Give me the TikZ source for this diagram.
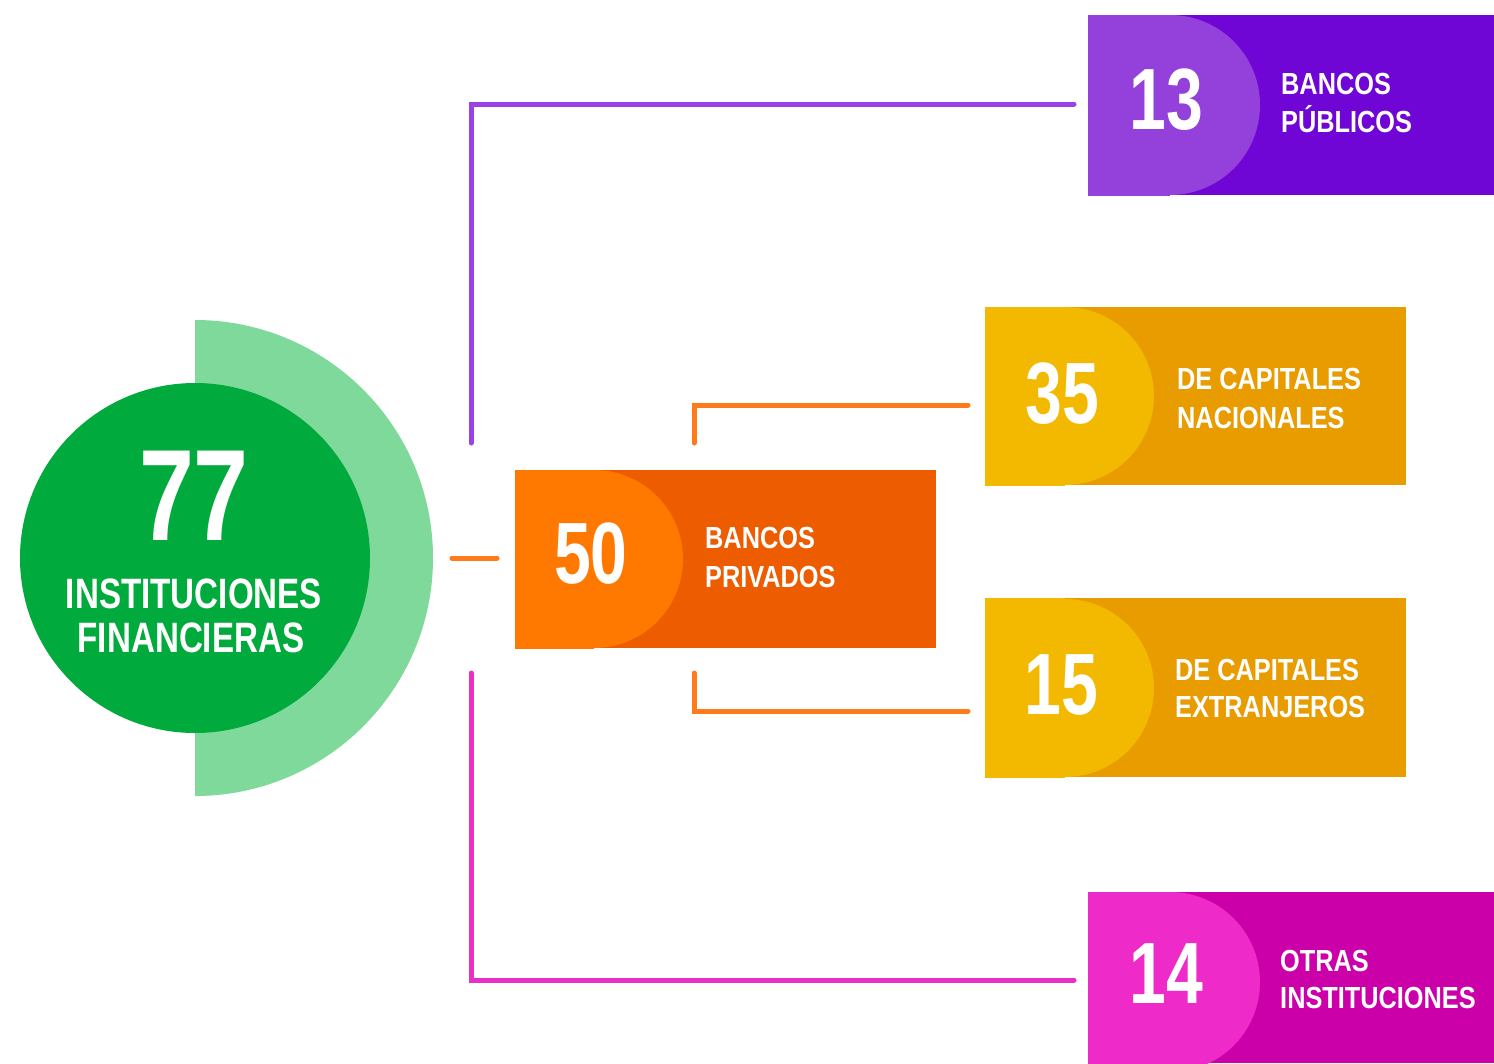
\documentclass[tikz,border=0pt]{standalone}
\usepackage{fontspec}
\setmainfont{Liberation Sans}
\newfontfamily\numfont{Liberation Sans}[FakeStretch=0.76]
\newfontfamily\labfont{Liberation Sans}[FakeStretch=0.83]
\newfontfamily\grnfont{Liberation Sans}[FakeStretch=0.78]
\definecolor{gdark}{HTML}{00AA3C}
\definecolor{glight}{HTML}{7ED99A}
\definecolor{pdark}{HTML}{7006D6}
\definecolor{plight}{HTML}{9440DA}
\definecolor{pline}{HTML}{9A42E6}
\definecolor{odark}{HTML}{EE5C00}
\definecolor{olight}{HTML}{FF7800}
\definecolor{oline}{HTML}{FF7A1A}
\definecolor{ydark}{HTML}{E89C00}
\definecolor{ylight}{HTML}{F2B900}
\definecolor{mdark}{HTML}{CC00A8}
\definecolor{mlight}{HTML}{EE2AC8}
\definecolor{mline}{HTML}{E830C8}
\tikzset{
  conn/.style={line width=5pt, line cap=round, line join=miter},
  num/.style={text=white, font=\numfont\bfseries\fontsize{87}{87}\selectfont, anchor=base, inner sep=0pt},
  lab/.style={text=white, font=\labfont\bfseries\fontsize{30.5}{30.5}\selectfont, anchor=base west, inner sep=0pt},
  grn/.style={text=white, font=\grnfont\bfseries\fontsize{42.5}{42.5}\selectfont, anchor=base, inner sep=0pt},
  card/.style={rectangle, draw=none, inner sep=0pt, anchor=north west},
}
% light "D" shape inside a card: #1 card name, #2 centre x, #3 centre y, #4 radius
\newcommand{\cardlight}[5]{%
  \begin{scope}
    \clip (#1.south west) rectangle (#1.north east);
    \fill[#5] (#2,#3) circle[radius=#4pt];
    \fill[#5] (#1.south west) rectangle (#2,#3-#4-5);
    \fill[#5] (#1.north west) rectangle (#2,#3+#4+5);
  \end{scope}}
\begin{document}
\begin{tikzpicture}[x=1pt,y=-1pt]
\useasboundingbox[fill=white] (0,0) rectangle (1494,1063);

% ---- green circle ----
\coordinate (gc) at (195,558);
\begin{scope}
  \clip (195,300) rectangle (460,820);
  \fill[glight] (gc) circle[radius=238pt];
\end{scope}
\node[circle, fill=gdark, minimum size=350pt, inner sep=0pt] (c77) at (gc) {};
\node[text=white, font=\numfont\bfseries\fontsize{130}{130}\selectfont, anchor=base, inner sep=0pt] (t77) at (194,540) {77};
\node[grn] (tinst) at (194,608) {INSTITUCIONES};
\node[grn] (tfin) at (191,652) {FINANCIERAS};

% ---- card 13 ----
\node[card, fill=pdark, minimum width=406pt, minimum height=180pt] (b13) at (1088,15) {};
\cardlight{b13}{1170}{105}{90}{plight}
\node[num] (n13) at (1166,129) {13};
\node[lab] (l13a) at (1281,94) {BANCOS};
\node[lab] (l13b) at (1281,132) {PÚBLICOS};

% ---- card 50 ----
\node[card, fill=odark, minimum width=421pt, minimum height=178pt] (b50) at (515,470) {};
\cardlight{b50}{594}{559}{89}{olight}
\node[num] (n50) at (591,583) {50};
\node[lab] (l50a) at (705,548) {BANCOS};
\node[lab] (l50b) at (705,587) {PRIVADOS};

% ---- card 35 ----
\node[card, fill=ydark, minimum width=421pt, minimum height=178pt] (b35) at (985,307) {};
\cardlight{b35}{1065}{396}{89}{ylight}
\node[num] (n35) at (1062,423) {35};
\node[lab] (l35a) at (1177,389) {DE CAPITALES};
\node[lab] (l35b) at (1177,428) {NACIONALES};

% ---- card 15 ----
\node[card, fill=ydark, minimum width=421pt, minimum height=179pt] (b15) at (985,598) {};
\cardlight{b15}{1065}{688}{89}{ylight}
\node[num] (n15) at (1061,714) {15};
\node[lab] (l15a) at (1175,680) {DE CAPITALES};
\node[lab] (l15b) at (1175,717) {EXTRANJEROS};

% ---- card 14 ----
\node[card, fill=mdark, minimum width=406pt, minimum height=171pt] (b14) at (1088,892) {};
\cardlight{b14}{1170}{982}{90}{mlight}
\node[num] (n14) at (1166,1003) {14};
\node[lab] (l14a) at (1280,971) {OTRAS};
\node[lab] (l14b) at (1280,1008) {INSTITUCIONES};

% ---- connectors ----
\coordinate (pA) at (471,443);
\coordinate (pB) at (1074,104);
\coordinate (mA) at (471,673);
\coordinate (mB) at (1074,980);
\coordinate (oA) at (452,558);
\coordinate (oB) at (497,558);
\coordinate (uA) at (694,443);
\coordinate (uB) at (968,405);
\coordinate (dA) at (694,673);
\coordinate (dB) at (968,711);
\draw[conn, pline] (pA) |- (pB);
\draw[conn, mline] (mA) |- (mB);
\draw[conn, oline] (oA) -- (oB);
\draw[conn, oline] (uA) |- (uB);
\draw[conn, oline] (dA) |- (dB);
\end{tikzpicture}
\end{document}
